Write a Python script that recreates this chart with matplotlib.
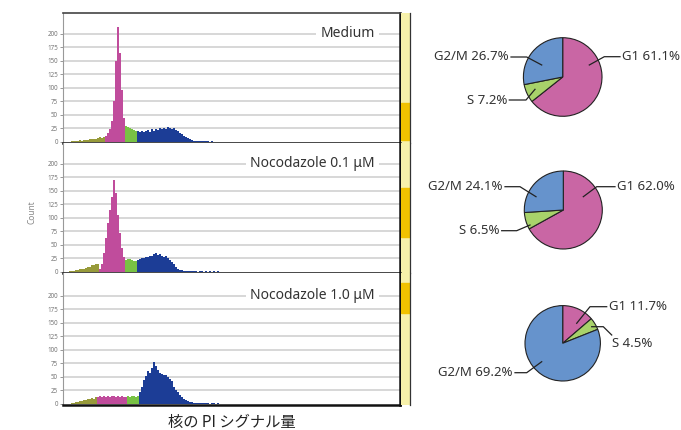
import numpy as np
import matplotlib.pyplot as plt

plt.rcParams['font.family'] = ['Noto Sans', 'DejaVu Sans']

# ---- histogram data (counts per 2-channel bin) ----
bin_w = 2
y_ticks = [0, 25, 50, 75, 100, 125, 150, 175, 200]

medium_start = 6
medium_sub = [0, 1, 1, 2, 2, 3, 2, 3, 4, 4, 5, 5, 6, 6, 8, 9, 8, 10]
medium_g1 = [11, 16, 24, 38, 75, 150, 213, 165, 95, 45]
medium_s = [30, 27, 25, 24, 22, 20]
medium_g2m = [20, 18, 21, 19, 20, 22, 19, 23, 21, 24, 22, 25, 23, 26, 24, 28, 25, 24,
              26, 22, 20, 16, 14, 11, 9, 7, 5, 3, 2, 2, 1, 2, 1, 1, 1, 1, 0, 1, 0]

noc01_start = 6
noc01_sub = [1, 2, 2, 3, 4, 5, 5, 6, 8, 9, 10, 12, 13, 15, 14]
noc01_g1 = [6, 15, 35, 62, 90, 115, 138, 170, 145, 105, 72, 45, 28]
noc01_s = [22, 24, 23, 22, 21, 20]
noc01_g2m = [22, 24, 26, 25, 28, 27, 30, 29, 33, 35, 31, 33, 30, 28, 29, 25, 22, 18,
             14, 9, 6, 4, 3, 2, 2, 1, 2, 1, 1, 1, 0, 1, 1, 0, 1, 0, 1, 0, 1, 0, 1, 0]

noc10_start = 8
noc10_sub = [1, 2, 3, 4, 5, 6, 7, 8, 9, 10, 11, 10, 12]
noc10_g1 = [12, 14, 13, 15, 12, 14, 13, 15, 14, 12, 15, 13, 14, 12, 13]
noc10_s = [14, 13, 15, 14, 13, 14]
noc10_g2m = [22, 32, 44, 52, 60, 58, 66, 78, 70, 62, 58, 55, 53, 54, 50, 46, 42, 32,
             26, 22, 17, 13, 9, 7, 5, 4, 3, 2, 2, 1, 2, 1, 1, 1, 1, 0, 1, 1, 0, 1, 0]

panel_titles = ["Medium", "Nocodazole 0.1 μM", "Nocodazole 1.0 μM"]
panel_starts = [medium_start, noc01_start, noc10_start]
panel_counts = [
    [medium_sub, medium_g1, medium_s, medium_g2m],
    [noc01_sub, noc01_g1, noc01_s, noc01_g2m],
    [noc10_sub, noc10_g1, noc10_s, noc10_g2m],
]
hist_colors = ['#979a3a', '#c04c9c', '#78c244', '#1c3d96']

# ---- pie data ----
phase_names = ["G1", "S", "G2/M"]
medium_pct = [61.1, 7.2, 26.7]
noc01_pct = [62.0, 6.5, 24.1]
noc10_pct = [11.7, 4.5, 69.2]
pie_colors = ['#c966a4', '#a8d26a', '#6693cc']

W, H = 681, 430
fig = plt.figure(figsize=(W / 100, H / 100), dpi=100)

# histogram panels: (top px, bottom px)
panel_px = [(13, 143), (143, 273), (273, 405)]
dark_blocks = [(0.023, 0.31), (0.277, 0.654), (0.697, 0.924)]

for k in range(3):
    top, bot = panel_px[k]
    ax = fig.add_axes([63 / W, 1 - bot / H, 337 / W, (bot - top) / H])
    x = panel_starts[k]
    for counts, col in zip(panel_counts[k], hist_colors):
        edges = x + bin_w * np.arange(len(counts) + 1)
        ax.stairs(counts, edges, fill=True, color=col, linewidth=0, zorder=3)
        x = edges[-1]
    ax.set_xlim(0, 337)
    ax.set_ylim(-2, 238 if k < 2 else 242)
    ax.set_yticks(y_ticks)
    ax.set_yticklabels([str(t) for t in y_ticks], fontsize=4.5, color='#777777')
    ax.tick_params(axis='y', length=2.5, width=0.6, color='#888888', pad=1)
    ax.set_xticks([])
    for t in y_ticks[1:]:
        ax.axhline(t, color='#d4d4d4', lw=1.3, zorder=1)
    ax.spines['left'].set_color('#999999')
    ax.spines['left'].set_linewidth(0.8)
    ax.spines['right'].set_color('#111111')
    ax.spines['right'].set_linewidth(1.8)
    ax.spines['bottom'].set_color('#111111')
    ax.spines['bottom'].set_linewidth(1.8)
    ax.spines['top'].set_color('#444444')
    ax.spines['top'].set_linewidth(1.2 if k == 0 else 0)
    ax.text(312, 200, panel_titles[k], ha='right', va='center', fontsize=10,
            color='#333333', zorder=4,
            bbox=dict(facecolor='white', edgecolor='none', pad=3))

    # yellow side strip
    sx = fig.add_axes([401 / W, 1 - bot / H, 9 / W, (bot - top) / H])
    sx.set_facecolor('#f7f1aa')
    sx.axhspan(dark_blocks[k][0], dark_blocks[k][1], color='#f1c200')
    sx.set_xlim(0, 1)
    sx.set_ylim(0, 1)
    sx.set_xticks([])
    sx.set_yticks([])
    for s in ['left', 'top', 'bottom']:
        sx.spines[s].set_visible(False)
    sx.spines['right'].set_color('#333333')
    sx.spines['right'].set_linewidth(0.9)

fig.text(32 / W, 1 - 212 / H, "Count", rotation=90, ha='center', va='center',
         fontsize=6, color='#888888')
fig.text(232 / W, 1 - 422 / H, "核の PI シグナル量", ha='center', va='center',
         fontsize=11, color='#222222',
         family=['Noto Sans CJK JP', 'DejaVu Sans'])

# ---- pies ----
pie_sets = [medium_pct, noc01_pct, noc10_pct]
pie_centers = [(562.7, 77, 39.3), (563.3, 210, 39), (562.7, 343.3, 37.7)]
# leader lines per label: start, elbow, end (px offsets from centre, y up), text side
leaders = [
    {"G1": [(26.6, 12), (41.6, 20.3), (57.3, 20.3), 'left'],
     "S": [(-27.7, -12.3), (-36.7, -23), (-53.4, -23), 'right'],
     "G2/M": [(-21, 12), (-36, 20), (-51.7, 20), 'right']},
    {"G1": [(20, 13.3), (33.4, 23.3), (51.7, 23.3), 'left'],
     "S": [(-33.3, -15), (-46.6, -20.7), (-61.6, -20.7), 'right'],
     "G2/M": [(-27.3, 13.3), (-43.3, 23.3), (-58.3, 23.3), 'right']},
    {"G1": [(14, 20), (27.3, 36.6), (44, 36.6), 'left'],
     "S": [(29, 16.6), (40.6, 16.6), (49, 8.3), 'below'],
     "G2/M": [(-21, -18.4), (-36, -29.4), (-47.7, -29.4), 'right']},
]

hw, hh = 118, 60
for k in range(3):
    cx, cy, r = pie_centers[k]
    pax = fig.add_axes([(cx - hw) / W, 1 - (cy + hh) / H, 2 * hw / W, 2 * hh / H])
    pax.pie(pie_sets[k], colors=pie_colors, startangle=90, counterclock=False,
            radius=1, wedgeprops=dict(edgecolor='#222222', linewidth=0.8))
    pax.set_xlim(-hw / r, hw / r)
    pax.set_ylim(-hh / r, hh / r)
    pax.set_aspect('equal')
    pax.axis('off')
    for name, pct in zip(phase_names, pie_sets[k]):
        p0, p1, p2, side = leaders[k][name]
        pax.plot([p0[0] / r, p1[0] / r, p2[0] / r], [p0[1] / r, p1[1] / r, p2[1] / r],
                 color='#222222', lw=0.9, clip_on=False)
        label = f"{name} {pct:.1f}%"
        if side == 'left':
            pax.text((p2[0] + 2) / r, p2[1] / r, label, ha='left', va='center',
                     fontsize=9.5, color='#333333')
        elif side == 'right':
            pax.text((p2[0] - 2) / r, p2[1] / r, label, ha='right', va='center',
                     fontsize=9.5, color='#333333')
        else:
            pax.text(p2[0] / r, (p2[1] - 8) / r, label, ha='left', va='center',
                     fontsize=9.5, color='#333333')

fig.savefig("out.png", dpi=100)
